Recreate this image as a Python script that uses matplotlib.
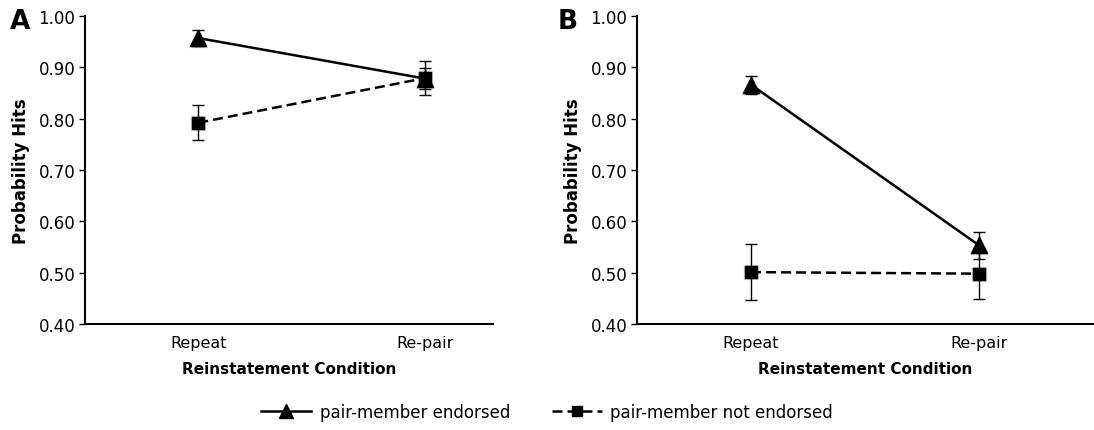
import matplotlib
matplotlib.use('Agg')
import matplotlib.pyplot as plt

conditions = ['Repeat', 'Re-pair']
endorsed_a = [0.957, 0.878]
endorsed_a_err = [0.016, 0.020]
not_endorsed_a = [0.792, 0.879]
not_endorsed_a_err = [0.034, 0.033]

endorsed_b = [0.866, 0.553]
endorsed_b_err = [0.018, 0.026]
not_endorsed_b = [0.501, 0.498]
not_endorsed_b_err = [0.054, 0.050]

yticks = [0.40, 0.50, 0.60, 0.70, 0.80, 0.90, 1.00]

plt.rcParams['font.family'] = 'DejaVu Sans'

fig = plt.figure(figsize=(10.94, 4.31), dpi=100)
ax1 = fig.add_axes([0.0777, 0.246, 0.373, 0.7146])
ax2 = fig.add_axes([0.5823, 0.246, 0.417, 0.7146])


def panel(ax, e, e_err, n, n_err, letter, xmax, lx):
    x = [0, 1]
    # soft grey shadows behind the markers
    ax.plot(x, e, linestyle='none', marker='^', ms=13, color='#bbbbbb', alpha=0.6, zorder=1)
    ax.plot(x, n, linestyle='none', marker='s', ms=10, color='#bbbbbb', alpha=0.6, zorder=1)
    ax.errorbar(x, n, yerr=n_err, color='black', ls=(0, (4, 2)), lw=1.8,
                marker='s', ms=8, elinewidth=1, capsize=4, capthick=1, zorder=3)
    ax.errorbar(x, e, yerr=e_err, color='black', ls='-', lw=1.8,
                marker='^', ms=11, elinewidth=1, capsize=4, capthick=1, zorder=4)
    ax.set_xlim(-0.5, xmax)
    ax.set_ylim(0.40, 1.00)
    ax.set_yticks(yticks)
    ax.set_yticklabels(['%.2f' % t for t in yticks], fontsize=12)
    ax.set_xticks(x)
    ax.set_xticklabels(conditions, fontsize=11.5)
    ax.tick_params(axis='x', length=0, pad=8)
    ax.tick_params(axis='y', length=4, width=1, pad=3)
    ax.spines['top'].set_visible(False)
    ax.spines['right'].set_visible(False)
    ax.spines['left'].set_linewidth(1.5)
    ax.spines['bottom'].set_linewidth(1.5)
    ax.set_ylabel('Probability Hits', fontsize=12, fontweight='bold', labelpad=6)
    ax.set_xlabel('Reinstatement Condition', fontsize=11, fontweight='bold', labelpad=8)
    ax.text(lx, 0.985, letter, transform=ax.transAxes, fontsize=19,
            fontweight='bold', ha='left', va='center')


panel(ax1, endorsed_a, endorsed_a_err, not_endorsed_a, not_endorsed_a_err, 'A', 1.3, -0.185)
panel(ax2, endorsed_b, endorsed_b_err, not_endorsed_b, not_endorsed_b_err, 'B', 1.5, -0.175)

h1, = ax1.plot([], [], color='black', ls='-', lw=1.8, marker='^', ms=10)
h2, = ax1.plot([], [], color='black', ls=(0, (4, 2)), lw=1.8, marker='s', ms=7)
fig.legend([h1, h2], ['pair-member endorsed', 'pair-member not endorsed'],
           loc='center', bbox_to_anchor=(0.5, 0.042), ncol=2, frameon=False,
           fontsize=12, handlelength=3, columnspacing=2.5, handletextpad=0.5)

fig.savefig('out.png', dpi=100)
